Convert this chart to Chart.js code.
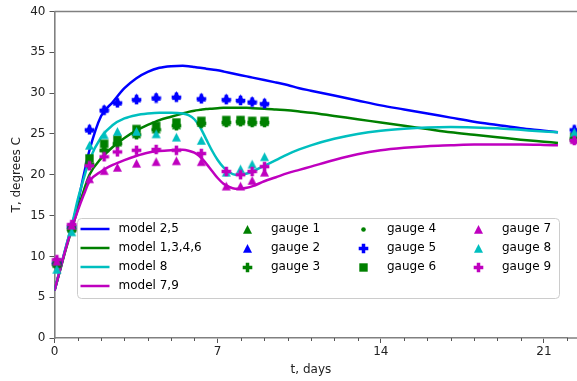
<!DOCTYPE html>
<html><head><meta charset="utf-8">
<script src="https://cdn.jsdelivr.net/npm/chart.js@4"></script>
<style>html,body{margin:0;padding:0;background:#fff;overflow:hidden;width:577px;height:381px}</style>
</head><body><canvas id="c" width="577" height="381"></canvas>
<script>
// ---- data ----
const modelDays = [0,0.25,0.5,0.75,1,1.25,1.5,2,2.5,3,3.5,4,4.5,5,5.5,5.75,6,6.25,6.5,6.75,7,7.25,7.5,7.75,8,8.25,8.5,9,9.5,10,10.5,11,12,13,14,15,16,17,18,19,20,21,21.6];
const model25   = [5.8,8.5,11.2,13.8,16.6,19.9,23.0,27.2,28.9,30.6,31.8,32.6,33.1,33.3,33.35,33.3,33.2,33.1,33.0,32.9,32.8,32.65,32.5,32.35,32.2,32.05,31.9,31.6,31.3,31.0,30.6,30.3,29.7,29.1,28.5,28.0,27.5,27.0,26.5,26.1,25.7,25.4,25.2];
const model1346 = [5.8,8.4,11.0,13.4,15.8,18.0,20.0,22.0,23.4,24.5,25.4,26.1,26.7,27.1,27.5,27.7,27.85,27.95,28.05,28.1,28.15,28.2,28.2,28.2,28.2,28.2,28.15,28.1,28.0,27.9,27.75,27.6,27.2,26.8,26.4,26.0,25.6,25.2,24.9,24.6,24.3,24.05,23.9];
const model8    = [5.8,8.6,11.3,13.9,17.0,19.5,21.8,24.6,26.1,26.9,27.3,27.5,27.6,27.6,27.5,27.3,26.8,25.8,24.4,23.0,21.8,20.9,20.3,20.0,20.0,20.15,20.4,21.1,21.8,22.5,23.1,23.6,24.4,25.0,25.4,25.65,25.8,25.85,25.8,25.7,25.5,25.3,25.2];
const model79   = [5.8,8.5,11.1,13.5,15.6,17.5,19.2,20.4,21.2,21.8,22.3,22.7,22.9,23.0,23.05,22.95,22.7,22.2,21.4,20.5,19.6,18.9,18.5,18.3,18.3,18.4,18.6,19.2,19.7,20.2,20.6,21.0,21.8,22.5,23.0,23.3,23.5,23.6,23.7,23.7,23.7,23.65,23.6];

const gaugeDays = [0.1,0.74,1.5,2.13,2.7,3.52,4.36,5.23,6.3,7.37,7.98,8.48,9.01,22.3];
const gauge1 = [9.1,13.5,21.5,23.3,24.0,25.0,25.6,26.1,26.4,26.5,26.6,26.5,26.5,24.5];
const gauge2 = [9.3,13.6,25.7,28.1,29.0,29.4,29.6,29.7,29.5,29.4,29.3,29.1,28.9,25.6];
const gauge3 = [9.0,13.3,21.3,23.0,23.8,24.9,25.5,26.0,26.3,26.4,26.5,26.4,26.4,24.4];
const gauge4 = [9.0,13.3,21.0,22.9,23.8,24.8,25.4,25.9,26.2,26.3,26.4,26.4,26.4,24.4];
const gauge5 = [9.2,13.6,25.5,27.9,28.8,29.2,29.4,29.5,29.3,29.2,29.1,28.9,28.7,25.5];
const gauge6 = [9.2,13.4,22.0,23.8,24.3,25.6,26.0,26.4,26.6,26.7,26.7,26.6,26.6,24.6];
const gauge7 = [9.4,13.8,19.5,20.5,20.9,21.4,21.6,21.7,21.6,18.6,18.6,19.3,20.3,24.3];
const gauge8 = [8.4,13.0,23.6,24.9,25.3,25.3,25.0,24.6,24.2,20.3,20.7,21.3,22.2,25.2];
const gauge9 = [9.6,13.9,21.1,22.2,22.8,23.0,23.1,23.0,22.6,20.4,20.0,20.4,21.0,24.2];

const modelLabels = ['model 2,5','model 1,3,4,6','model 8','model 7,9'];
const gaugeLabels = ['gauge 1','gauge 2','gauge 3','gauge 4','gauge 5','gauge 6','gauge 7','gauge 8','gauge 9'];
const xTickValues = [0,7,14,21];
const yTickValues = [0,5,10,15,20,25,30,35,40];

// ---- styles ----
const B='#0000ff', G='#008000', C='#00bfbf', M='#bf00bf';
const FONT = "'DejaVu Sans', 'Liberation Sans', sans-serif";
const SPINE = '#808080';

function marker(shape, color){
  const c = document.createElement('canvas');
  const s = shape==='dot' ? 5 : 11;
  c.width = s; c.height = s;
  const g = c.getContext('2d');
  g.fillStyle = color;
  const m = s/2;
  g.beginPath();
  if (shape==='tri'){
    g.moveTo(m, m-4.4); g.lineTo(m+4.5, m+4.3); g.lineTo(m-4.5, m+4.3); g.closePath();
  } else if (shape==='sq'){
    g.rect(m-4.2, m-4.2, 8.4, 8.4);
  } else if (shape==='plus'){
    const h=4.8, a=1.75;
    g.moveTo(m-a,m-h); g.lineTo(m+a,m-h); g.lineTo(m+a,m-a); g.lineTo(m+h,m-a); g.lineTo(m+h,m+a);
    g.lineTo(m+a,m+a); g.lineTo(m+a,m+h); g.lineTo(m-a,m+h); g.lineTo(m-a,m+a); g.lineTo(m-h,m+a);
    g.lineTo(m-h,m-a); g.lineTo(m-a,m-a); g.closePath();
  } else {
    g.arc(m, m, 2.3, 0, Math.PI*2);
  }
  g.fill();
  return c;
}

const gaugeStyles = [
  ['tri',G],['tri',B],['plus',G],['dot',G],['plus',B],['sq',G],['tri',M],['tri',C],['plus',M]
];
const gaugeValues = [gauge1,gauge2,gauge3,gauge4,gauge5,gauge6,gauge7,gauge8,gauge9];
const modelValues = [model25,model1346,model8,model79];
const modelColors = [B,G,C,M];

const datasets = [];
modelValues.forEach((vals,i)=>{
  datasets.push({
    label: modelLabels[i],
    data: modelDays.map((d,k)=>({x:d,y:vals[k]})),
    borderColor: modelColors[i], backgroundColor: modelColors[i],
    borderWidth: 2.5, pointRadius: 0, fill:false, showLine:true,
    cubicInterpolationMode:'monotone', order: 30 - i, kind:'model'
  });
});
gaugeValues.forEach((vals,i)=>{
  const img = marker(gaugeStyles[i][0], gaugeStyles[i][1]);
  datasets.push({
    label: gaugeLabels[i],
    data: gaugeDays.map((d,k)=>({x:d,y:vals[k]})),
    borderColor: gaugeStyles[i][1], backgroundColor: gaugeStyles[i][1],
    showLine:false, pointStyle: img, pointRadius: 15, pointHoverRadius: 15,
    clip: false, order: 10 - i, kind:'gauge', img: img
  });
});

const extras = {
  id:'extras',
  afterDraw(chart){
    const ctx = chart.ctx, a = chart.chartArea, W = chart.width;
    const xs = chart.scales.x;
    ctx.save();
    // top spine and bottom extension
    ctx.strokeStyle = SPINE; ctx.lineWidth = 1.6;
    ctx.beginPath();
    ctx.moveTo(a.left, a.top); ctx.lineTo(W, a.top);
    ctx.moveTo(a.right, a.bottom); ctx.lineTo(W, a.bottom);
    ctx.stroke();
    // minor ticks
    ctx.lineWidth = 1;
    ctx.strokeStyle = '#555';
    ctx.beginPath();
    for (let d=1; d<=22; d++){
      if (d%7===0) continue;
      const px = Math.round(xs.getPixelForValue(d))+0.5;
      ctx.moveTo(px, a.bottom); ctx.lineTo(px, a.bottom+3);
    }
    ctx.stroke();
    // legend
    const lx = a.left + 23, ly = 218.5, lw = 482, lh = 80, r = 4;
    ctx.beginPath();
    ctx.moveTo(lx+r, ly); ctx.lineTo(lx+lw-r, ly); ctx.quadraticCurveTo(lx+lw, ly, lx+lw, ly+r);
    ctx.lineTo(lx+lw, ly+lh-r); ctx.quadraticCurveTo(lx+lw, ly+lh, lx+lw-r, ly+lh);
    ctx.lineTo(lx+r, ly+lh); ctx.quadraticCurveTo(lx, ly+lh, lx, ly+lh-r);
    ctx.lineTo(lx, ly+r); ctx.quadraticCurveTo(lx, ly, lx+r, ly); ctx.closePath();
    ctx.fillStyle = 'rgba(255,255,255,0.8)'; ctx.fill();
    ctx.strokeStyle = '#cccccc'; ctx.lineWidth = 1; ctx.stroke();
    ctx.font = '12px ' + FONT; ctx.textBaseline = 'middle'; ctx.fillStyle = '#000';
    const rowY = [229, 248, 267, 286];
    const dsets = chart.data.datasets;
    const models = dsets.filter(d=>d.kind==='model');
    const gauges = dsets.filter(d=>d.kind==='gauge');
    models.forEach((d,i)=>{
      ctx.strokeStyle = d.borderColor; ctx.lineWidth = 2.5;
      ctx.beginPath(); ctx.moveTo(lx+3, rowY[i]); ctx.lineTo(lx+32, rowY[i]); ctx.stroke();
      ctx.fillStyle = '#000';
      ctx.fillText(d.label, lx+41, rowY[i]);
    });
    const mX = [247, 363, 478], tX = [271, 387, 502];
    gauges.forEach((d,i)=>{
      const col = Math.floor(i/3), row = i%3;
      const img = d.img;
      ctx.drawImage(img, Math.round(mX[col]-img.width/2), Math.round(rowY[row]-img.height/2));
      ctx.fillStyle = '#000';
      ctx.fillText(d.label, tX[col], rowY[row]);
    });
    ctx.restore();
  }
};

new Chart(document.getElementById('c'), {
  type: 'line',
  data: { datasets },
  options: {
    responsive: false, animation: false, devicePixelRatio: 1,
    layout: { autoPadding: false, padding: { left: 0, top: 11.5, right: 9.7, bottom: 0 } },
    plugins: { legend: { display: false }, tooltip: { enabled: false } },
    scales: {
      x: {
        type: 'linear', min: 0, max: 22,
        afterBuildTicks: s => { s.ticks = xTickValues.map(v=>({value:v})); },
        afterFit: s => { s.height = 43; s.paddingLeft = 0; s.paddingRight = 0; },
        grid: { drawOnChartArea: false, drawTicks: true, tickLength: 5, tickColor: '#555', tickWidth: 1 },
        border: { color: SPINE, width: 1.6 },
        ticks: { color: '#222', font: { family: FONT, size: 12 }, padding: 2, maxRotation: 0 },
        title: { display: true, text: 't, days', color: '#222', font: { family: FONT, size: 12 }, padding: { top: 0, bottom: 4 } }
      },
      y: {
        type: 'linear', min: 0, max: 40,
        afterBuildTicks: s => { s.ticks = yTickValues.map(v=>({value:v})); },
        afterFit: s => { s.width = 54.5; s.paddingTop = 0; s.paddingBottom = 0; },
        grid: { drawOnChartArea: false, drawTicks: true, tickLength: 5, tickColor: '#555', tickWidth: 1 },
        border: { color: SPINE, width: 1.6 },
        ticks: { color: '#222', font: { family: FONT, size: 12 }, padding: 4 },
        title: { display: true, text: 'T, degrees C', color: '#222', font: { family: FONT, size: 12 }, padding: { top: 9.5, bottom: 0 } }
      }
    }
  },
  plugins: [extras]
});
</script>
</body></html>
